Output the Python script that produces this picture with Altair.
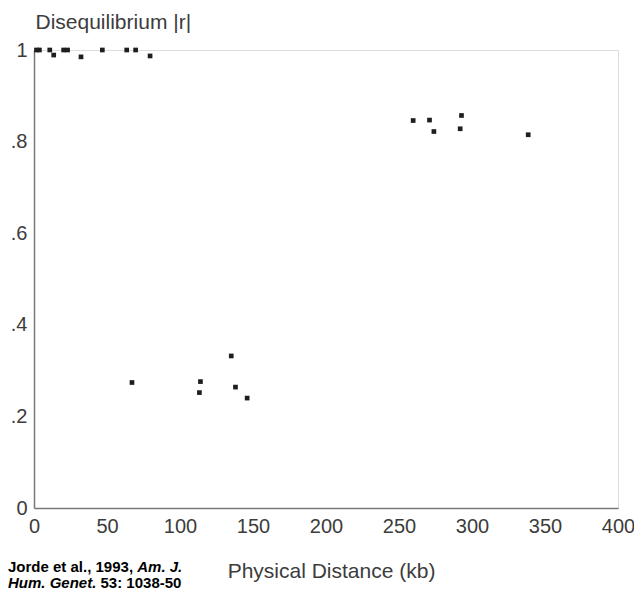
import altair as alt
import pandas as pd

# Physical distance (kb) and disequilibrium |r|
distance_kb = [1.7, 3.7, 10.8, 13.5, 20.3, 23.0, 32.2, 46.8, 63.5, 69.6, 79.5,
               67.1, 114.0, 113.3, 135.1, 138.0, 146.0,
               259.7, 270.9, 273.9, 292.8, 291.9, 338.5]
disequilibrium = [1.0, 1.0, 1.0, 0.989, 1.0, 1.0, 0.985, 1.0, 1.0, 1.0, 0.987,
                  0.274, 0.276, 0.252, 0.332, 0.264, 0.240,
                  0.846, 0.847, 0.822, 0.857, 0.828, 0.815]

x_ticks = [0, 50, 100, 150, 200, 250, 300, 350, 400]
y_ticks = [0, 0.2, 0.4, 0.6, 0.8, 1.0]

x_title = "Physical Distance (kb)"
y_title = "Disequilibrium |r|"
source_parts = [
    ("Jorde et al., 1993,", "normal"),
    ("Am. J.", "italic"),
    ("Hum. Genet.", "italic"),
    ("53: 1038-50", "normal"),
]

df = pd.DataFrame({"distance": distance_kb, "r": disequilibrium})

FONT = "Liberation Sans"
TXT = "#3c3c3c"
W, H = 584, 458

points = alt.Chart(df).mark_square(size=22, color="#1e1e1e", opacity=1).encode(
    x=alt.X("distance:Q",
            scale=alt.Scale(domain=[0, 400], nice=False, zero=True),
            axis=alt.Axis(values=x_ticks, title=x_title, grid=False, ticks=False,
                          labelFontSize=20, labelFont=FONT, labelColor=TXT,
                          labelPadding=8, labelFlush=False,
                          domainColor="#777777", domainWidth=1.5,
                          titleFont=FONT, titleFontSize=21, titleFontWeight="normal",
                          titleColor=TXT, titleBaseline="alphabetic", titleY=69,
                          titleX=297, labelOverlap=False)),
    y=alt.Y("r:Q",
            scale=alt.Scale(domain=[0, 1], nice=False),
            axis=alt.Axis(values=y_ticks, title=y_title, grid=False, ticks=False,
                          labelFontSize=20, labelFont=FONT, labelColor=TXT,
                          labelPadding=7, labelFlush=False,
                          domainColor="#777777", domainWidth=1.5,
                          labelExpr="datum.value == 0 ? '0' : (datum.value == 1 ? '1' : replace(format(datum.value, '.1f'), '0.', '.'))",
                          titleFont=FONT, titleFontSize=21, titleFontWeight="normal",
                          titleColor=TXT, titleAngle=0, titleAlign="left",
                          titleBaseline="alphabetic", titleX=1, titleY=-22)),
)

# source note, in two lines with mixed italic
fs = 15
x0 = -26
offsets = [(x0, 522), (x0 + 8.616 * fs, 522),
           (x0, 538), (x0 + (5.89 + 0.278) * fs, 538)]
layers = [points]
for (txt, style), (ox, oy) in zip(source_parts, offsets):
    layers.append(
        alt.Chart(pd.DataFrame({"t": [txt]})).mark_text(
            align="left", baseline="alphabetic", font=FONT, fontSize=fs,
            fontWeight="bold", fontStyle=style, color="#000000"
        ).encode(text="t:N", x=alt.value(ox), y=alt.value(oy))
    )

chart = alt.layer(*layers).properties(
    width=W, height=H,
    autosize=alt.AutoSizeParams(type="none"),
    padding={"left": 26, "top": 42, "right": 16, "bottom": 82},
).configure_view(stroke=None).configure(background="white")

chart.save("out.html", embed_options={"renderer": "svg", "actions": False})
